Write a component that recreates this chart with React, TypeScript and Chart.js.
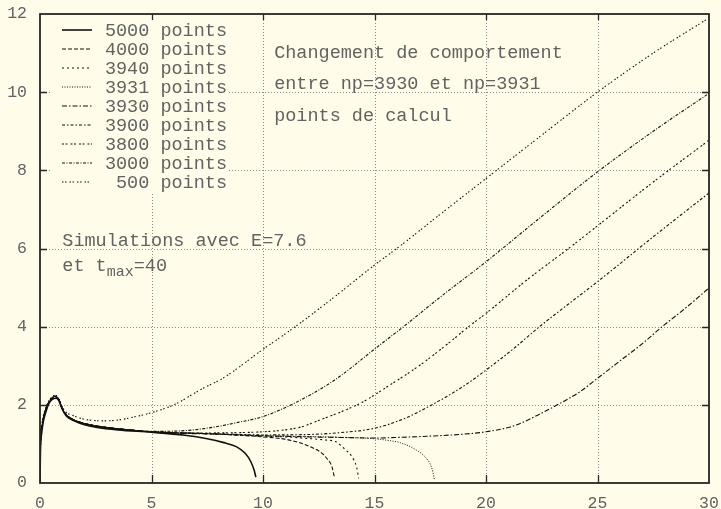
import React, { useEffect, useRef } from "react";
import { Chart, registerables } from "chart.js";

Chart.register(...registerables);

// ---- data -----------------------------------------------------------------
const seriesLabels = [
  "5000 points",
  "4000 points",
  "3940 points",
  "3931 points",
  "3930 points",
  "3900 points",
  "3800 points",
  "3000 points",
  " 500 points",
];

const x5000 = [0, 0.02, 0.08, 0.16, 0.28, 0.4, 0.55, 0.72, 0.85, 0.95, 1.06, 1.2, 1.5, 2.0, 2.5, 3.5, 5.0, 6.5, 7.5, 8.2, 8.8, 9.2, 9.45, 9.6, 9.68];
const y5000 = [0, 0.8, 1.3, 1.6, 1.85, 2.04, 2.14, 2.17, 2.1, 1.95, 1.82, 1.7, 1.6, 1.49, 1.43, 1.36, 1.3, 1.22, 1.13, 1.04, 0.93, 0.76, 0.55, 0.33, 0.15];

const x4000 = [0, 0.02, 0.1, 0.2, 0.35, 0.5, 0.68, 0.85, 1.0, 1.15, 1.5, 2.0, 3.0, 4.0, 5.0, 6.5, 8.0, 9.0, 10.0, 11.0, 11.75, 12.3, 12.65, 12.9, 13.09, 13.2];
const y4000 = [0, 0.9, 1.45, 1.75, 2.0, 2.13, 2.2, 2.12, 1.9, 1.76, 1.62, 1.52, 1.42, 1.36, 1.31, 1.28, 1.25, 1.22, 1.18, 1.12, 1.01, 0.88, 0.76, 0.6, 0.42, 0.15];

const x3940 = [0, 0.02, 0.1, 0.2, 0.35, 0.5, 0.68, 0.85, 1.0, 1.15, 1.5, 2.0, 3.0, 4.0, 5.0, 6.5, 8.0, 10.0, 11.0, 12.0, 12.8, 13.24, 13.7, 13.99, 14.2, 14.29];
const y3940 = [0, 0.95, 1.5, 1.78, 2.02, 2.15, 2.22, 2.13, 1.9, 1.76, 1.62, 1.52, 1.42, 1.36, 1.31, 1.28, 1.25, 1.2, 1.18, 1.14, 1.1, 1.06, 0.85, 0.67, 0.4, 0.12];

const x3931 = [0, 0.02, 0.1, 0.2, 0.35, 0.5, 0.68, 0.85, 1.0, 1.15, 1.5, 2.0, 3.0, 4.0, 5.0, 6.5, 8.0, 10.0, 12.0, 14.0, 15.04, 15.6, 16.16, 16.83, 17.3, 17.5, 17.62, 17.68];
const y3931 = [0, 0.95, 1.5, 1.78, 2.02, 2.15, 2.22, 2.13, 1.9, 1.76, 1.62, 1.52, 1.42, 1.36, 1.31, 1.28, 1.25, 1.21, 1.19, 1.16, 1.13, 1.09, 1.03, 0.86, 0.65, 0.48, 0.28, 0.1];

const x3930 = [0, 0.02, 0.1, 0.2, 0.35, 0.5, 0.68, 0.85, 1.0, 1.15, 1.5, 2.0, 3.0, 4.0, 5.0, 8.0, 10.0, 12.0, 14.0, 15.0, 16.2, 17.5, 19.0, 20.0, 21.0, 21.6, 22.4, 23.2, 24.2, 25.0, 26.0, 27.0, 27.9, 29.0, 30.0];
const y3930 = [0, 0.95, 1.5, 1.78, 2.02, 2.15, 2.22, 2.13, 1.9, 1.76, 1.62, 1.52, 1.42, 1.36, 1.3, 1.25, 1.21, 1.18, 1.16, 1.15, 1.17, 1.2, 1.25, 1.31, 1.42, 1.54, 1.76, 2.0, 2.33, 2.68, 3.12, 3.56, 4.0, 4.5, 4.99];

const x3900 = [0, 0.02, 0.1, 0.2, 0.35, 0.5, 0.68, 0.85, 1.0, 1.15, 1.5, 2.0, 3.0, 4.0, 5.0, 8.0, 10.0, 12.0, 13.5, 15.0, 16.3, 17.7, 19.0, 20.0, 21.2, 22.4, 23.7, 25.0, 27.5, 30.0];
const y3900 = [0, 0.95, 1.5, 1.78, 2.02, 2.15, 2.22, 2.13, 1.9, 1.76, 1.62, 1.52, 1.42, 1.36, 1.31, 1.26, 1.23, 1.24, 1.29, 1.4, 1.64, 2.04, 2.48, 2.89, 3.42, 4.0, 4.58, 5.15, 6.3, 7.42];

const x3800 = [0, 0.02, 0.1, 0.2, 0.35, 0.5, 0.68, 0.85, 1.0, 1.15, 1.5, 2.0, 3.0, 4.0, 5.0, 7.0, 9.0, 10.0, 11.0, 11.75, 12.5, 13.5, 14.4, 15.7, 17.0, 18.5, 19.22, 20.0, 21.8, 23.7, 25.0, 27.5, 30.0];
const y3800 = [0, 0.95, 1.5, 1.78, 2.02, 2.15, 2.22, 2.13, 1.9, 1.76, 1.62, 1.52, 1.42, 1.36, 1.31, 1.28, 1.29, 1.31, 1.36, 1.44, 1.6, 1.82, 2.05, 2.51, 3.0, 3.66, 4.0, 4.34, 5.18, 6.0, 6.58, 7.7, 8.77];

const x3000 = [0, 0.02, 0.1, 0.2, 0.35, 0.5, 0.68, 0.85, 1.0, 1.15, 1.5, 2.0, 3.0, 4.0, 5.0, 6.5, 7.2, 8.0, 8.7, 10.0, 11.4, 13.2, 15.1, 16.3, 18.0, 20.0, 22.3, 25.0, 27.5, 30.0];
const y3000 = [0, 0.95, 1.5, 1.78, 2.02, 2.15, 2.22, 2.13, 1.9, 1.76, 1.62, 1.52, 1.42, 1.36, 1.32, 1.34, 1.38, 1.45, 1.53, 1.7, 2.04, 2.63, 3.47, 4.0, 4.78, 5.66, 6.73, 7.96, 9.0, 9.97];

const x500 = [0, 0.02, 0.08, 0.2, 0.35, 0.5, 0.68, 0.85, 1.0, 1.13, 1.5, 2.0, 2.8, 3.5, 4.3, 5.0, 6.0, 7.3, 8.2, 10.0, 11.4, 13.2, 15.1, 16.0, 18.0, 20.0, 22.5, 25.0, 27.5, 30.0];
const y500 = [0, 1.0, 1.5, 1.82, 2.06, 2.18, 2.25, 2.15, 1.95, 1.83, 1.72, 1.63, 1.59, 1.61, 1.7, 1.8, 2.0, 2.42, 2.68, 3.42, 3.98, 4.76, 5.62, 6.0, 6.9, 7.79, 8.9, 10.0, 11.0, 11.9];

const seriesX = [x5000, x4000, x3940, x3931, x3930, x3900, x3800, x3000, x500];
const seriesY = [y5000, y4000, y3940, y3931, y3930, y3900, y3800, y3000, y500];

const xTicks = [0, 5, 10, 15, 20, 25, 30];
const yTicks = [0, 2, 4, 6, 8, 10, 12];

// ---- styles ---------------------------------------------------------------
const BG = "#fffdea";
const INK = "#111111";
const TEXT = "#626262";
const MONO = "'Liberation Mono', 'DejaVu Sans Mono', monospace";

const dashes: number[][] = [
  [],
  [4, 2],
  [2, 3],
  [1, 1.5],
  [5, 2, 1.5, 2],
  [3, 2, 1.5, 2],
  [2, 1.5, 2, 3],
  [3, 1.5, 1, 1.5],
  [1.5, 1.5, 1.5, 3],
];
const widths = [1.6, 1.1, 1.1, 1, 1.1, 1.1, 1.1, 1.1, 1.1];

type Part = { t: string; sub?: boolean };
const notes: { x: number; y: number; parts: Part[] }[] = [
  { x: 10.5, y: 11.0, parts: [{ t: "Changement de comportement" }] },
  { x: 10.5, y: 10.2, parts: [{ t: "entre np=3930 et np=3931" }] },
  { x: 10.5, y: 9.4, parts: [{ t: "points de calcul" }] },
  { x: 1.0, y: 6.18, parts: [{ t: "Simulations avec E=7.6" }] },
  { x: 1.0, y: 5.55, parts: [{ t: "et t" }, { t: "max", sub: true }, { t: "=40" }] },
];

// Grid, frame, inward tick marks, key and labels in the gnuplot manner
const framePlugin = {
  id: "gnuplotFrame",
  beforeDraw(chart: any) {
    const { ctx, width, height } = chart;
    ctx.save();
    ctx.fillStyle = BG;
    ctx.fillRect(0, 0, width, height);
    ctx.restore();
  },
  beforeDatasetsDraw(chart: any) {
    const { ctx, chartArea: a, scales } = chart;
    const xs = scales.x;
    const ys = scales.y;
    ctx.save();
    // dotted grid
    ctx.strokeStyle = "#8a8a8a";
    ctx.lineWidth = 1;
    ctx.setLineDash([1, 2]);
    xTicks.slice(1, -1).forEach((v) => {
      const px = Math.round(xs.getPixelForValue(v)) + 0.5;
      ctx.beginPath();
      ctx.moveTo(px, a.bottom);
      ctx.lineTo(px, a.top);
      ctx.stroke();
    });
    yTicks.slice(1, -1).forEach((v) => {
      const py = Math.round(ys.getPixelForValue(v)) + 0.5;
      ctx.beginPath();
      ctx.moveTo(a.left, py);
      ctx.lineTo(a.right, py);
      ctx.stroke();
    });
    ctx.setLineDash([]);
    // opaque key area
    ctx.fillStyle = BG;
    ctx.fillRect(a.left + 12, a.top + 6, 175, 172);
    // text labels
    ctx.fillStyle = TEXT;
    ctx.textBaseline = "middle";
    ctx.textAlign = "left";
    notes.forEach((n) => {
      let px = xs.getPixelForValue(n.x);
      const py = ys.getPixelForValue(n.y);
      n.parts.forEach((p) => {
        ctx.font = p.sub ? `15px ${MONO}` : `18.5px ${MONO}`;
        ctx.fillText(p.t, px, p.sub ? py + 6 : py);
        px += ctx.measureText(p.t).width;
      });
    });
    ctx.restore();
  },
  afterDatasetsDraw(chart: any) {
    const { ctx, chartArea: a, scales } = chart;
    const xs = scales.x;
    const ys = scales.y;
    ctx.save();
    // frame
    ctx.strokeStyle = "#262626";
    ctx.lineWidth = 1.8;
    ctx.strokeRect(a.left, a.top, a.right - a.left, a.bottom - a.top);
    // inward ticks on all four sides
    ctx.lineWidth = 1.3;
    const tl = 7;
    xTicks.slice(1, -1).forEach((v) => {
      const px = Math.round(xs.getPixelForValue(v)) + 0.5;
      ctx.beginPath();
      ctx.moveTo(px, a.bottom);
      ctx.lineTo(px, a.bottom - tl - 1);
      ctx.moveTo(px, a.top);
      ctx.lineTo(px, a.top + tl - 1);
      ctx.stroke();
    });
    yTicks.slice(1, -1).forEach((v) => {
      const py = Math.round(ys.getPixelForValue(v)) + 0.5;
      ctx.beginPath();
      ctx.moveTo(a.left, py);
      ctx.lineTo(a.left + tl, py);
      ctx.moveTo(a.right, py);
      ctx.lineTo(a.right - tl, py);
      ctx.stroke();
    });
    // key
    ctx.font = `18.5px ${MONO}`;
    ctx.textBaseline = "middle";
    ctx.textAlign = "right";
    chart.data.datasets.forEach((ds: any, i: number) => {
      const py = a.top + 16 + i * 19;
      ctx.strokeStyle = ds.borderColor;
      ctx.lineWidth = ds.borderWidth;
      ctx.setLineDash(ds.borderDash || []);
      ctx.beginPath();
      ctx.moveTo(a.left + 22, py);
      ctx.lineTo(a.left + 52, py);
      ctx.stroke();
      ctx.setLineDash([]);
      ctx.fillStyle = TEXT;
      ctx.fillText(ds.label, a.left + 187, py + 1);
    });
    ctx.restore();
  },
};

// keep the plot box fixed: no extra room reserved for overhanging tick labels
const noOverhang = (s: any) => {
  s.paddingTop = 0;
  s.paddingBottom = 0;
  s.paddingLeft = 0;
  s.paddingRight = 0;
};

export default function App() {
  const ref = useRef<HTMLCanvasElement | null>(null);

  useEffect(() => {
    if (!ref.current) return;
    const datasets = seriesLabels.map((label, i) => ({
      label,
      data: seriesX[i].map((x, k) => ({ x, y: seriesY[i][k] })),
      borderColor: INK,
      borderWidth: widths[i],
      borderDash: dashes[i],
      pointRadius: 0,
      fill: false,
      cubicInterpolationMode: "monotone" as const,
    }));
    const chart = new Chart(ref.current, {
      type: "line",
      data: { datasets },
      plugins: [framePlugin],
      options: {
        animation: false,
        responsive: false,
        layout: { padding: { top: 14, right: 12, left: 0, bottom: 0 } },
        plugins: { legend: { display: false }, tooltip: { enabled: false } },
        scales: {
          x: {
            type: "linear",
            min: xTicks[0],
            max: xTicks[xTicks.length - 1],
            grid: { display: false, drawTicks: false },
            border: { display: false },
            ticks: {
              stepSize: xTicks[1] - xTicks[0],
              color: TEXT,
              padding: 11,
              maxRotation: 0,
              font: { family: MONO, size: 16.5 },
            },
            afterFit: (s: any) => {
              s.height = 26;
              noOverhang(s);
            },
          },
          y: {
            type: "linear",
            min: yTicks[0],
            max: yTicks[yTicks.length - 1],
            grid: { display: false, drawTicks: false },
            border: { display: false },
            ticks: {
              stepSize: yTicks[1] - yTicks[0],
              color: TEXT,
              padding: 13,
              font: { family: MONO, size: 16.5 },
            },
            afterFit: (s: any) => {
              s.width = 40;
              noOverhang(s);
            },
          },
        },
      },
    });
    return () => chart.destroy();
  }, []);

  return (
    <div style={{ position: "absolute", left: 0, top: 0, width: 721, height: 509, background: BG }}>
      <canvas ref={ref} width={721} height={509} style={{ display: "block" }} />
    </div>
  );
}
